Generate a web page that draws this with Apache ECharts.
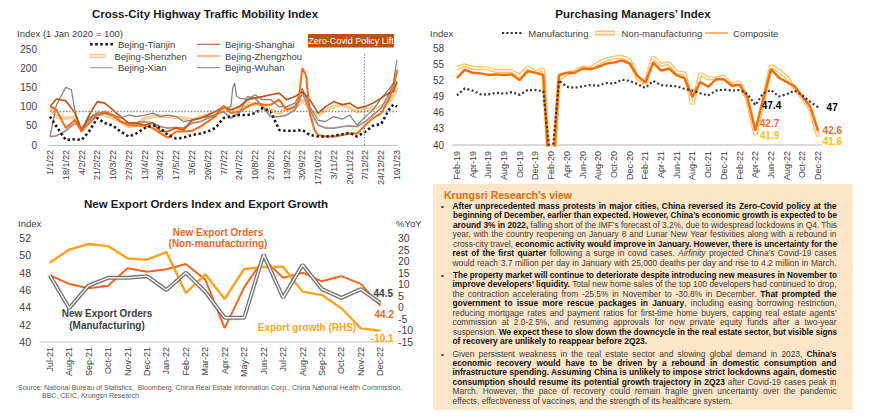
<!DOCTYPE html>
<html><head><meta charset="utf-8">
<script src="https://cdn.jsdelivr.net/npm/echarts@6/dist/echarts.min.js"></script>
<style>
html,body{margin:0;padding:0;background:#fff;}
#chart{position:absolute;left:0;top:0;width:870px;height:420px;}
#panel{position:absolute;left:433px;top:184px;width:420px;height:226px;background:#FCE5C8;font-family:'Liberation Sans Narrow','Liberation Sans',Arial,sans-serif;}
#panel .ttl{position:absolute;left:11px;top:5px;font-size:10.5px;line-height:12px;font-weight:bold;color:#E46C0A;white-space:nowrap;}
#panel .blk{position:absolute;left:0;width:420px;}
#panel .dot{position:absolute;left:8px;top:0;font-size:8px;line-height:9.45px;color:#222;}
#panel .ln{position:relative;margin-left:19.5px;width:384px;height:9.45px;font-size:8.4px;line-height:9.45px;color:#3a3a3a;white-space:nowrap;}
#panel .ln span.in{display:inline-block;white-space:nowrap;transform-origin:0 0;}
#panel b{color:#111;}
</style>
</head><body>
<div id="chart"></div>
<div id="panel"></div>
<script>
// ---------- Cross-city highway traffic mobility (day offsets from 1 Jan 2022) ----------
const trafficTicks = ['1/1/22','18/1/22','4/2/22','21/2/22','10/3/22','27/3/22','13/4/22','30/4/22','17/5/22','3/6/22','20/6/22','7/7/22','24/7/22','10/8/22','27/8/22','13/9/22','30/9/22','17/10/22','3/11/22','20/11/22','7/12/22','24/12/22','10/1/23'];
const trafficDays = [0,7,17,27,34,42,51,59,68,76,85,93,102,111,119,127,136,144,153,162,170,178,187,195,204,213,221,229,238,247,255,264,272,280,289,297,306,315,323,331,340,348,357,365,370,374];
const tianjin   = [74,48,13,15,13,35,70,57,50,35,22,30,44,52,44,26,17,19,26,30,35,44,70,74,78,78,83,96,87,39,37,37,39,26,22,22,24,28,32,22,35,50,55,91,105,100];
const shanghai  = [100,120,115,83,35,78,113,109,91,74,57,57,52,57,35,35,44,39,65,70,78,87,100,91,100,118,122,126,131,135,118,126,139,118,83,100,113,105,109,96,100,109,122,135,139,165];
const shenzhen  = [95,74,70,72,39,70,83,78,70,61,48,52,70,74,76,74,72,70,65,72,78,83,91,91,96,109,105,105,91,83,96,96,118,91,78,91,100,105,96,87,91,96,100,113,126,148];
const zhengzhou = [102,91,44,65,35,57,78,87,78,61,52,50,50,44,30,19,35,35,37,48,61,74,102,83,87,100,109,105,105,118,91,100,200,83,26,22,22,26,30,30,52,70,83,118,148,196];
const zhengzhouExtra = [[268,118],[276,182],[285,39]];
const xian      = [22,24,37,57,44,65,78,83,76,61,57,58,61,57,48,44,46,44,57,61,70,78,87,70,83,126,122,100,74,74,78,91,135,91,52,44,44,48,50,48,61,78,96,131,157,190];
const wuhan     = [22,105,150,87,40,70,83,83,78,70,78,74,78,83,74,78,74,61,65,70,74,78,96,100,122,118,131,118,118,100,100,109,148,100,65,61,74,67,78,52,74,91,122,144,161,222];
const wuhanExtra = [[23,144],[197,150],[199,161],[201,128]];
const baselineLevel = 88;
const policyLiftDay = 339;

// ---------- PMI ----------
const pmiMonths = ['Feb-19','Mar-19','Apr-19','May-19','Jun-19','Jul-19','Aug-19','Sep-19','Oct-19','Nov-19','Dec-19',
 'Jan-20','Feb-20','Mar-20','Apr-20','May-20','Jun-20','Jul-20','Aug-20','Sep-20','Oct-20','Nov-20','Dec-20',
 'Jan-21','Feb-21','Mar-21','Apr-21','May-21','Jun-21','Jul-21','Aug-21','Sep-21','Oct-21','Nov-21','Dec-21',
 'Jan-22','Feb-22','Mar-22','Apr-22','May-22','Jun-22','Jul-22','Aug-22','Sep-22','Oct-22','Nov-22','Dec-22'];
const pmiManufacturing = [49.2,50.5,50.1,49.4,49.4,49.7,49.5,49.8,49.3,50.2,50.2, 50.0,35.7,52.0,50.8,50.6,50.9,51.1,51.0,51.5,51.4,52.1,51.9, 51.3,50.6,51.9,51.1,51.0,50.9,50.4,50.1,49.6,49.2,50.1,50.3, 50.1,50.2,49.5,47.4,49.6,50.2,49.0,49.4,50.1,49.2,48.0,47.0];
const pmiNonManufacturing = [54.3,54.8,54.3,54.3,54.2,53.7,53.8,53.7,52.8,54.4,53.5, 54.1,29.6,52.3,53.2,53.6,54.4,54.2,55.2,55.9,56.2,56.4,55.7, 52.4,51.4,56.3,54.9,55.2,53.5,53.3,47.5,53.2,52.4,52.3,52.7, 51.1,51.6,48.4,41.9,47.8,54.7,53.8,52.6,50.6,48.7,46.7,41.6];
const pmiComposite = [52.4,54.0,53.4,53.3,53.0,53.1,53.0,53.1,52.0,53.7,53.4, 53.0,28.9,53.0,53.4,53.4,54.2,54.1,54.5,55.1,55.3,55.7,55.1, 52.8,51.6,55.3,53.8,54.2,52.9,52.4,48.9,51.7,50.8,52.2,52.2, 51.0,51.2,48.8,42.7,48.4,54.1,52.5,51.7,50.9,49.0,47.1,42.6];
const pmiLabelIdx = [38,46];

// ---------- Export orders & export growth ----------
const exportMonths = ['Jul-21','Aug-21','Sep-21','Oct-21','Nov-21','Dec-21','Jan-22','Feb-22','Mar-22','Apr-22','May-22','Jun-22','Jul-22','Aug-22','Sep-22','Oct-22','Nov-22','Dec-22'];
const neoNonManufacturing = [47.7,46.7,46.2,46.5,48.5,48.1,48.4,49.0,47.2,41.6,46.3,49.6,47.4,48.0,47.0,47.6,46.7,44.2];
const neoManufacturing    = [47.7,43.9,46.5,47.4,47.4,47.6,46.0,48.0,45.8,42.8,42.8,50.1,45.1,48.9,46.1,45.1,46.1,44.5];
const exportGrowth        = [19.3,25.0,27.4,26.5,21.2,20.6,23.9,6.2,14.3,3.6,16.6,17.5,17.6,6.8,5.3,-0.4,-9.1,-10.1];
const exportLabelIdx = 17;

// ---------- Text panel ----------
const viewTitle = 'Krungsri Research’s view';
const view1 = [
 '<b>After unprecedented mass protests in major cities, China reversed its Zero-Covid policy at the</b>',
 '<b>beginning of December, earlier than expected. However, China’s economic growth is expected to be</b>',
 '<b>around 3% in 2022,</b> falling short of the IMF’s forecast of 3.2%, due to widespread lockdowns in Q4. This',
 'year, with the country reopening on January 8 and Lunar New Year festivities along with a rebound in',
 'cross-city travel, <b>economic activity would improve in January. However, there is uncertainty for the</b>',
 '<b>rest of the first quarter</b> following a surge in covid cases. <i>Airfinity</i> projected China’s Covid-19 cases',
 'would reach 3.7 million per day in January with 25,000 deaths per day and rise to 4.2 million in March.'
];
const view2 = [
 '<b>The property market will continue to deteriorate despite introducing new measures in November to</b>',
 '<b>improve developers’ liquidity.</b> Total new home sales of the top 100 developers had continued to drop,',
 'the contraction accelerating from -25.5% in November to -30.8% in December. <b>That prompted the</b>',
 '<b>government to issue more rescue packages in January</b>, including easing borrowing restriction,',
 'reducing mortgage rates and payment ratios for first-time home buyers, capping real estate agents’',
 'commission at 2.0-2.5%, and resuming approvals for new private equity funds after a two-year',
 'suspension. <b>We expect these to slow down the downcycle in the real estate sector, but visible signs</b>',
 '<b>of recovery are unlikely to reappear before 2Q23.</b>'
];
const view3 = [
 'Given persistent weakness in the real estate sector and slowing global demand in 2023, <b>China’s</b>',
 '<b>economic recovery would have to be driven by a rebound in domestic consumption and</b>',
 '<b>infrastructure spending. Assuming China is unlikely to impose strict lockdowns again, domestic</b>',
 '<b>consumption should resume its potential growth trajectory in 2Q23</b> after Covid-19 cases peak in',
 'March. However, the pace of recovery could remain fragile given uncertainty over the pandemic',
 'effects, effectiveness of vaccines, and the strength of its healthcare system.'
];
const sourceLines = ['Source: National Bureau of Statistics,  Bloomberg, China Real Estate Information Corp., China National Health Commission,', 'BBC, CEIC, Krungsri Research'];

// ================= build =================
const FF = "'Liberation Sans Narrow','Liberation Sans',Arial,sans-serif";
const TXT = '#404040';
function pairs(days, vals, extra){ const p = days.map((d,i)=>[d, vals[i]]); return (extra? p.concat(extra):p).sort((a,b)=>a[0]-b[0]); }
function labelled(vals, idxs, lab){ return vals.map((v,i)=> idxs.indexOf(i)>=0 ? {value:v, symbol:'circle', symbolSize:1, label:Object.assign({show:true, fontFamily:FF, fontWeight:'bold', fontSize:10}, lab(i))} : v); }

// legend icons (drawn as paths so that no symbol circle is added)
const ICON_SOLID = 'path://M0,0L23,0L23,1L0,1Z';
const ICON_DOUBLE = 'path://M0,0L24,0L24,6L0,6Z M1,2L1,4L23,4L23,2Z';
function dotsIcon(n, w){ let s='path://'; const step = (23 - w)/(n-1); for(let i=0;i<n;i++){ const x=(i*step).toFixed(2), x2=(i*step+w).toFixed(2); s += 'M'+x+',0L'+x2+',0L'+x2+','+w+'L'+x+','+w+'Z '; } return s.trim(); }
const ICON_DOTS = dotsIcon(5, 2.6);
function leg(name, left, rowY, icon, ih){
  return {data:[{name:name, icon:icon}], left:left, top:rowY-6, padding:0, itemWidth:23, itemHeight: ih, selectedMode:false,
    textStyle:{fontFamily:FF, fontSize:9.5, color:TXT}};
}
const lineBase = {type:'line', symbol:'none', showSymbol:true, animation:false, emphasis:{disabled:true}};

const option = {
  animation:false,
  grid:[
    {left:50, top:49, width:347, height:96, outerBoundsMode:'none'},
    {left:453, top:48, width:369, height:97, outerBoundsMode:'none'},
    {left:40, top:238, width:350, height:104, outerBoundsMode:'none'}
  ],
  xAxis:[
    {gridIndex:0, type:'value', min:0, max:374, interval:17,
     axisLine:{show:true, onZero:false, lineStyle:{color:'#BFBFBF', width:1}}, axisTick:{show:false}, splitLine:{show:false},
     axisLabel:{rotate:90, fontSize:9, color:TXT, fontFamily:FF, margin:5, showMinLabel:true, showMaxLabel:true,
       formatter:(v)=>trafficTicks[Math.round(v/17)]||''}},
    {gridIndex:1, type:'category', data:pmiMonths, boundaryGap:true,
     axisLine:{show:true, onZero:false, lineStyle:{color:'#D9D9D9', width:2}}, axisTick:{show:false}, splitLine:{show:false},
     axisLabel:{rotate:90, interval:1, fontSize:9, color:TXT, fontFamily:FF, margin:6}},
    {gridIndex:2, type:'category', data:exportMonths, boundaryGap:true,
     axisLine:{show:true, onZero:false, lineStyle:{color:'#D9D9D9', width:1.5}}, axisTick:{show:false}, splitLine:{show:false},
     axisLabel:{rotate:90, interval:0, fontSize:9, color:TXT, fontFamily:FF, margin:5}}
  ],
  yAxis:[
    {gridIndex:0, type:'value', min:0, max:250, interval:50, axisLine:{show:false}, axisTick:{show:false}, splitLine:{show:false},
     axisLabel:{fontSize:10, color:TXT, fontFamily:FF, margin:13}},
    {gridIndex:1, type:'value', min:40, max:58, interval:3, axisLine:{show:false}, axisTick:{show:false}, splitLine:{show:false},
     axisLabel:{fontSize:10, color:TXT, fontFamily:FF, margin:9}},
    {gridIndex:2, type:'value', min:40, max:52, interval:2, axisLine:{show:false}, axisTick:{show:false}, splitLine:{show:false},
     axisLabel:{fontSize:10.5, color:TXT, fontFamily:FF, margin:9}},
    {gridIndex:2, type:'value', position:'right', min:-15, max:30, interval:5, axisLine:{show:false}, axisTick:{show:false}, splitLine:{show:false},
     axisLabel:{fontSize:10.5, color:TXT, fontFamily:FF, margin:8}}
  ],
  legend:[
    leg('Bejing-Tianjin', 90, 45.3, ICON_DOTS, 2.6),
    leg('Bejing-Shanghai', 197, 45.3, ICON_SOLID, 1.6),
    leg('Bejing-Shenzhen', 90, 57, ICON_DOUBLE, 4),
    leg('Bejing-Zhengzhou', 197, 57, ICON_SOLID, 2.2),
    leg('Bejing-Xian', 90, 68.7, ICON_SOLID, 1.8),
    leg('Bejing-Wuhan', 197, 68.7, ICON_SOLID, 1.2),
    leg('Manufacturing', 502, 34, ICON_DOTS, 2.2),
    leg('Non-manufacturing', 595, 34, ICON_DOUBLE, 5),
    leg('Composite', 705, 34, ICON_SOLID, 2.4)
  ],
  series:[
    // chart 1
    Object.assign({}, lineBase, {name:'Bejing-Shenzhen', xAxisIndex:0, yAxisIndex:0, data:pairs(trafficDays, shenzhen), color:'#FDC275', itemStyle:{color:'#FDC275'}, lineStyle:{color:'#FDC275', width:3.2}}),
    Object.assign({}, lineBase, {name:'Bejing-Shenzhen-core', xAxisIndex:0, yAxisIndex:0, data:pairs(trafficDays, shenzhen), silent:true, lineStyle:{color:'#FFEBCB', width:0.9}}),
    Object.assign({}, lineBase, {name:'Bejing-Xian', xAxisIndex:0, yAxisIndex:0, data:pairs(trafficDays, xian), color:'#A38F89', itemStyle:{color:'#A38F89'}, lineStyle:{color:'#A38F89', width:1.8}}),
    Object.assign({}, lineBase, {name:'Bejing-Wuhan', xAxisIndex:0, yAxisIndex:0, data:pairs(trafficDays, wuhan, wuhanExtra), color:'#7F7F7F', itemStyle:{color:'#7F7F7F'}, lineStyle:{color:'#7F7F7F', width:1.2}}),
    Object.assign({}, lineBase, {name:'Bejing-Shanghai', xAxisIndex:0, yAxisIndex:0, data:pairs(trafficDays, shanghai), color:'#C0500F', itemStyle:{color:'#C0500F'}, lineStyle:{color:'#C0500F', width:1.6}}),
    Object.assign({}, lineBase, {name:'Bejing-Zhengzhou', xAxisIndex:0, yAxisIndex:0, data:pairs(trafficDays, zhengzhou, zhengzhouExtra), color:'#FF6A10', itemStyle:{color:'#FF6A10'}, lineStyle:{color:'#FF6A10', width:2}}),
    Object.assign({}, lineBase, {name:'Bejing-Tianjin', xAxisIndex:0, yAxisIndex:0, data:pairs(trafficDays, tianjin), color:'#1a1a1a', itemStyle:{color:'#1a1a1a'}, lineStyle:{color:'#1a1a1a', width:2.6, type:[2.4,2.6]},
      markLine:{silent:true, symbol:'none', animation:false, label:{show:false},
        data:[{yAxis:baselineLevel, lineStyle:{color:'#8C8C8C', width:1.3, type:[1.6,1.6]}},
              [{coord:[policyLiftDay, 0]}, {coord:[policyLiftDay, 237], lineStyle:{color:'#8C8C8C', width:1.3, type:[1.6,1.6]}}]]}}),
    // chart 2
    Object.assign({}, lineBase, {name:'Non-manufacturing', xAxisIndex:1, yAxisIndex:1, color:'#FFC46A', itemStyle:{color:'#FFC46A'}, lineStyle:{color:'#FFC46A', width:4.2},
      data:labelled(pmiNonManufacturing, pmiLabelIdx, i=>({position:'right', distance:4, offset:[0, i===46?5:1], color:'#FFC000'}))}),
    Object.assign({}, lineBase, {name:'Non-manufacturing-core', xAxisIndex:1, yAxisIndex:1, data:pmiNonManufacturing, silent:true, lineStyle:{color:'#FFFFFF', width:1.3}}),
    Object.assign({}, lineBase, {name:'Composite', xAxisIndex:1, yAxisIndex:1, color:'#FF6A00', itemStyle:{color:'#FF6A00'}, lineStyle:{color:'#FF6A00', width:2.4},
      data:labelled(pmiComposite, pmiLabelIdx, i=>({position:'right', distance:4, offset:[0, i===38?-6.5:-0.5], color:'#F26B1D'}))}),
    Object.assign({}, lineBase, {name:'Manufacturing', xAxisIndex:1, yAxisIndex:1, color:'#333333', itemStyle:{color:'#333333'}, lineStyle:{color:'#333333', width:2.2, type:[2,2.4]},
      data:labelled(pmiManufacturing, pmiLabelIdx, i=>({position:'right', distance: i===38?6:8, color:'#000'}))}),
    // chart 3
    Object.assign({}, lineBase, {name:'NEO Non-manufacturing', xAxisIndex:2, yAxisIndex:2, color:'#F4661B', lineStyle:{color:'#F4661B', width:2},
      data:labelled(neoNonManufacturing, [exportLabelIdx], ()=>({position:'bottom', distance:3, offset:[4,0], color:'#F4661B'}))}),
    Object.assign({}, lineBase, {name:'Export growth', xAxisIndex:2, yAxisIndex:3, color:'#FFA21A', lineStyle:{color:'#FFA21A', width:2.4},
      data:labelled(exportGrowth, [exportLabelIdx], ()=>({position:'bottom', distance:2, offset:[2,0], color:'#FFA21A'}))}),
    Object.assign({}, lineBase, {name:'NEO Manufacturing', xAxisIndex:2, yAxisIndex:2, color:'#747070', lineStyle:{color:'#747070', width:4},
      data:labelled(neoManufacturing, [exportLabelIdx], ()=>({position:'top', distance:4, offset:[3,0], color:'#404040'}))}),
    Object.assign({}, lineBase, {name:'NEO Manufacturing-core', xAxisIndex:2, yAxisIndex:2, data:neoManufacturing, silent:true, lineStyle:{color:'#FFFFFF', width:1.3}})
  ],
  graphic:{elements:[
    {type:'text', x:205, y:14, style:{text:'Cross-City Highway Traffic Mobility Index', fontFamily:FF, fontWeight:'bold', fontSize:11.5, fill:'#1a1a1a', align:'center', verticalAlign:'middle'}},
    {type:'text', x:17, y:33, style:{text:'Index (1 Jan 2020 = 100)', fontFamily:FF, fontSize:9.5, fill:TXT, align:'left', verticalAlign:'middle'}},
    {type:'rect', shape:{x:308, y:34, width:86, height:13.5}, style:{fill:'#C0500F'}},
    {type:'text', x:351, y:40.8, style:{text:'Zero-Covid Policy Lift', fontFamily:FF, fontSize:9, fill:'#FFFFFF', align:'center', verticalAlign:'middle'}},
    {type:'text', x:633, y:14, style:{text:'Purchasing Managers’ Index', fontFamily:FF, fontWeight:'bold', fontSize:11.5, fill:'#1a1a1a', align:'center', verticalAlign:'middle'}},
    {type:'text', x:430, y:33, style:{text:'Index', fontFamily:FF, fontSize:9.5, fill:TXT, align:'left', verticalAlign:'middle'}},
    {type:'text', x:206, y:204, style:{text:'New Export Orders Index and Export Growth', fontFamily:FF, fontWeight:'bold', fontSize:11.5, fill:'#1a1a1a', align:'center', verticalAlign:'middle'}},
    {type:'text', x:18, y:223, style:{text:'Index', fontFamily:FF, fontSize:9.5, fill:TXT, align:'left', verticalAlign:'middle'}},
    {type:'text', x:396, y:223, style:{text:'%YoY', fontFamily:FF, fontSize:9.5, fill:TXT, align:'left', verticalAlign:'middle'}},
    {type:'text', x:218, y:232, style:{text:'New Export Orders', fontFamily:FF, fontWeight:'bold', fontSize:10, fill:'#F4661B', align:'center', verticalAlign:'middle'}},
    {type:'text', x:218, y:243.5, style:{text:'(Non-manufacturing)', fontFamily:FF, fontWeight:'bold', fontSize:10, fill:'#F4661B', align:'center', verticalAlign:'middle'}},
    {type:'text', x:107, y:313, style:{text:'New Export Orders', fontFamily:FF, fontWeight:'bold', fontSize:10, fill:'#404040', align:'center', verticalAlign:'middle'}},
    {type:'text', x:107, y:325, style:{text:'(Manufacturing)', fontFamily:FF, fontWeight:'bold', fontSize:10, fill:'#404040', align:'center', verticalAlign:'middle'}},
    {type:'text', x:307, y:327.5, style:{text:'Export growth (RHS)', fontFamily:FF, fontWeight:'bold', fontSize:10, fill:'#FFA21A', align:'center', verticalAlign:'middle'}},
    {type:'text', x:18, y:387, style:{text:sourceLines[0], fontFamily:FF, fontSize:7, fill:'#595959', align:'left', verticalAlign:'middle'}},
    {type:'text', x:42, y:395, style:{text:sourceLines[1], fontFamily:FF, fontSize:7, fill:'#595959', align:'left', verticalAlign:'middle'}}
  ]}
};

const chart = echarts.init(document.getElementById('chart'), null, {renderer:'svg', width:870, height:420});
chart.setOption(option);

// ----- text panel -----
const panel = document.getElementById('panel');
const t = document.createElement('div'); t.className='ttl'; t.textContent = viewTitle; panel.appendChild(t);
function block(lines, top, lastShort){
  const b = document.createElement('div'); b.className='blk'; b.style.top = top+'px';
  const d = document.createElement('span'); d.className='dot'; d.textContent='•'; b.appendChild(d);
  lines.forEach((h,i)=>{
    const ln = document.createElement('div'); ln.className='ln';
    if (lastShort && i===lines.length-1) ln.dataset.last='1';
    const s = document.createElement('span'); s.className='in'; s.innerHTML = h; ln.appendChild(s);
    b.appendChild(ln);
  });
  panel.appendChild(b);
}
block(view1, 18, false);
block(view2, 87, true);
block(view3, 165.6, true);
function fit(){
  document.querySelectorAll('#panel .ln').forEach(ln=>{
    const s = ln.firstChild; ln.style.wordSpacing='0px'; s.style.transform='';
    const W = 384, w = s.getBoundingClientRect().width;
    const spaces = (s.textContent.match(/ /g)||[]).length;
    if (w > W) { s.style.transform = 'scaleX(' + (W/w) + ')'; }
    else if (ln.dataset.last!=='1' && spaces) { ln.style.wordSpacing = ((W-w)/spaces) + 'px'; }
  });
}
fit();
if (document.fonts && document.fonts.ready) document.fonts.ready.then(fit);
</script>
</body></html>
